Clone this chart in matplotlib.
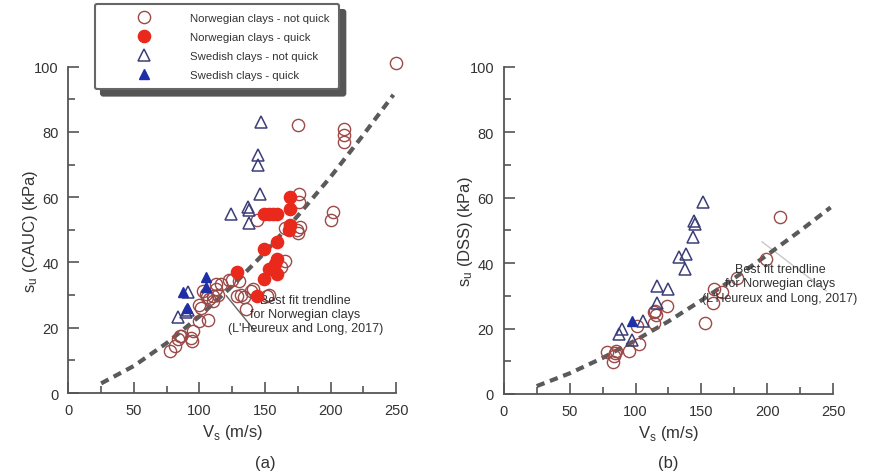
# su vs Vs for Norwegian and Swedish clays (CAUC and DSS)

import matplotlib
matplotlib.use('Agg')
import matplotlib.pyplot as plt
from matplotlib.ticker import MultipleLocator

plt.rcParams['font.family'] = ['Liberation Sans', 'DejaVu Sans']

# ---- panel (a) : CAUC ----
a_nor_nq_vs = [250, 175, 210, 210, 210, 176, 176, 202, 200, 144, 165, 174.5, 177, 175,
               165.5, 162, 153, 151.5, 131.5, 134, 129, 135.5, 139, 140.5, 122.5, 125,
               130, 116.5, 112.5, 113, 114, 110, 107.5, 110, 102.5, 105, 106, 99.5, 101.3,
               100, 106.3, 95, 94.5, 93.7, 86, 84.8, 83.6, 81, 77.3]
a_nor_nq_su = [101, 82, 81, 79, 77, 61, 58.5, 55.6, 53, 53, 50.5, 50, 51, 49,
               40.5, 38.5, 30, 29.7, 30, 29.3, 29.8, 25.8, 31.4, 32, 34.5, 34.5,
               34.3, 33.5, 33.4, 31.8, 30, 29.8, 28.8, 28.3, 31.4, 30.4, 29.3, 27, 26,
               22.2, 22.5, 19.1, 16, 17, 17.6, 17.4, 16.6, 14.5, 13]

a_nor_q_vs = [129, 144, 149, 149, 149, 153, 156, 159, 153, 158, 159.3, 159.3, 159.3,
              168, 169, 169, 169]
a_nor_q_su = [37.2, 29.6, 35, 44, 55, 55, 55, 55, 38, 39.5, 41, 36.5, 46.2,
              50, 51.5, 56.5, 60]

a_swe_nq_vs = [147, 145, 145, 146, 137, 138, 124, 137.5, 91, 84, 90, 91.5]
a_swe_nq_su = [83, 73, 70, 61, 57, 56, 55, 52, 31, 23.2, 24.7, 25.5]

a_swe_q_vs = [87.4, 105, 105, 90.5]
a_swe_q_su = [31, 35.5, 32.4, 26]

a_fit_vs = [25, 50, 75, 100, 125, 150, 175, 200, 225, 248]
a_fit_su = [2.95, 8.3, 15.3, 23.5, 32.8, 43.1, 54.3, 66.2, 79.1, 91.4]

# ---- panel (b) : DSS ----
b_nor_nq_vs = [209.3, 199.2, 176.9, 165.5, 159.2, 158.7, 152.9, 123.8, 115, 115.7,
               114.2, 101, 102.3, 94.7, 85.4, 84.6, 78.3, 83.3, 82.9, 113.7]
b_nor_nq_su = [54.2, 41.3, 35.4, 31.3, 32.1, 27.8, 21.7, 27, 25.5, 24,
               21.7, 20.8, 15.2, 13.2, 13.2, 12.6, 12.7, 11.5, 9.7, 25]

b_swe_nq_vs = [151.1, 144.5, 145.3, 143.5, 132.6, 138.5, 137.2, 116.2, 124.3, 116.2,
               106, 89.7, 87.1, 97.3]
b_swe_nq_su = [58.8, 53, 52, 47.9, 41.8, 42.8, 38.2, 33, 32.1, 27.8,
               22.3, 19.9, 18.3, 16.6]

b_swe_q_vs = [97.3]
b_swe_q_su = [22.4]

b_fit_vs = [25, 50, 75, 100, 125, 150, 175, 200, 225, 248]
b_fit_su = [2.4, 6.3, 11.0, 16.4, 22.2, 28.6, 35.4, 42.5, 49.9, 57.0]

note = "Best fit trendline\nfor Norwegian clays\n(L'Heureux and Long, 2017)"

c_open = '#9b4a48'
c_red = '#e8291c'
c_tri = '#3d3d78'
c_blue = '#1f2fa8'
c_axis = '#555555'

fig = plt.figure(figsize=(8.94, 4.77), dpi=100)
ax1 = fig.add_axes([0.0765, 0.174, 0.3665, 0.684])
ax2 = fig.add_axes([0.5635, 0.172, 0.3685, 0.686])


def style(ax, ylabel):
    ax.set_xlim(0, 250)
    ax.set_ylim(0, 100)
    for s in ['top', 'right']:
        ax.spines[s].set_visible(False)
    for s in ['left', 'bottom']:
        ax.spines[s].set_color(c_axis)
        ax.spines[s].set_linewidth(1.3)
    ax.xaxis.set_major_locator(MultipleLocator(50))
    ax.xaxis.set_minor_locator(MultipleLocator(25))
    ax.yaxis.set_major_locator(MultipleLocator(20))
    ax.yaxis.set_minor_locator(MultipleLocator(10))
    ax.tick_params(which='both', direction='in', color=c_axis, width=1.2,
                   labelsize=10.5, labelcolor='#333333')
    ax.tick_params(which='major', length=8, pad=7)
    ax.tick_params(which='minor', length=5)
    ax.set_xlabel(r'V$_\mathregular{s}$ (m/s)', fontsize=12, color='#333333', labelpad=4)
    ax.set_ylabel(ylabel, fontsize=12, color='#333333', labelpad=-4)


def draw(ax, fit_vs, fit_su, nq_vs, nq_su, q_vs, q_su, snq_vs, snq_su, sq_vs, sq_su):
    ax.plot(fit_vs, fit_su, color='#5a5a5a', lw=3, linestyle=(0, (2, 1.4)),
            solid_capstyle='butt', zorder=2)
    ax.plot(nq_vs, nq_su, 'o', ms=8.8, mfc='none', mec=c_open, mew=1.0, zorder=3,
            clip_on=False, label='Norwegian clays - not quick')
    if q_vs:
        ax.plot(q_vs, q_su, 'o', ms=8.8, mfc=c_red, mec=c_red, zorder=4,
                label='Norwegian clays - quick')
    ax.plot(snq_vs, snq_su, '^', ms=8, mfc='none', mec=c_tri, mew=1.1, zorder=3,
            label='Swedish clays - not quick')
    ax.plot(sq_vs, sq_su, '^', ms=7, mfc=c_blue, mec=c_blue, zorder=4,
            label='Swedish clays - quick')


style(ax1, r'$\mathregular{s_u}$ (CAUC) (kPa)')
style(ax2, r'$\mathregular{s_u}$ (DSS) (kPa)')

draw(ax1, a_fit_vs, a_fit_su, a_nor_nq_vs, a_nor_nq_su, a_nor_q_vs, a_nor_q_su,
     a_swe_nq_vs, a_swe_nq_su, a_swe_q_vs, a_swe_q_su)
draw(ax2, b_fit_vs, b_fit_su, b_nor_nq_vs, b_nor_nq_su, [], [],
     b_swe_nq_vs, b_swe_nq_su, b_swe_q_vs, b_swe_q_su)

# annotations
ax1.plot([120.5, 142], [29.8, 19.2], color='#666666', lw=1, zorder=1)
ax1.text(181, 24.2, note, ha='center', va='center', fontsize=9, color='#333333',
         linespacing=1.25)
ax2.plot([196, 244.7], [46.5, 31.5], color='#c8c8c8', lw=1, zorder=1)
ax2.text(209.5, 33.8, note, ha='center', va='center', fontsize=9, color='#333333',
         linespacing=1.25)

fig.text(0.297, 0.029, '(a)', ha='center', va='center', fontsize=12, color='#333333')
fig.text(0.748, 0.029, '(b)', ha='center', va='center', fontsize=12, color='#333333')

# legend with shadow
h, l = ax1.get_legend_handles_labels()
leg = fig.legend(h, l, loc='upper left', bbox_to_anchor=(0.106, 0.99),
                 bbox_transform=fig.transFigure, fontsize=8.2, frameon=True,
                 fancybox=True, handlelength=7.0, handletextpad=0.6,
                 borderpad=0.8, labelspacing=0.8, borderaxespad=0,
                 shadow={'ox': 4.5, 'oy': -4.5, 'color': '#555555', 'alpha': 1})
leg.get_frame().set_edgecolor('#666666')
leg.get_frame().set_linewidth(1.5)
leg.get_frame().set_alpha(1)
for t in leg.get_texts():
    t.set_color('#333333')

fig.savefig('out.png', dpi=100)
